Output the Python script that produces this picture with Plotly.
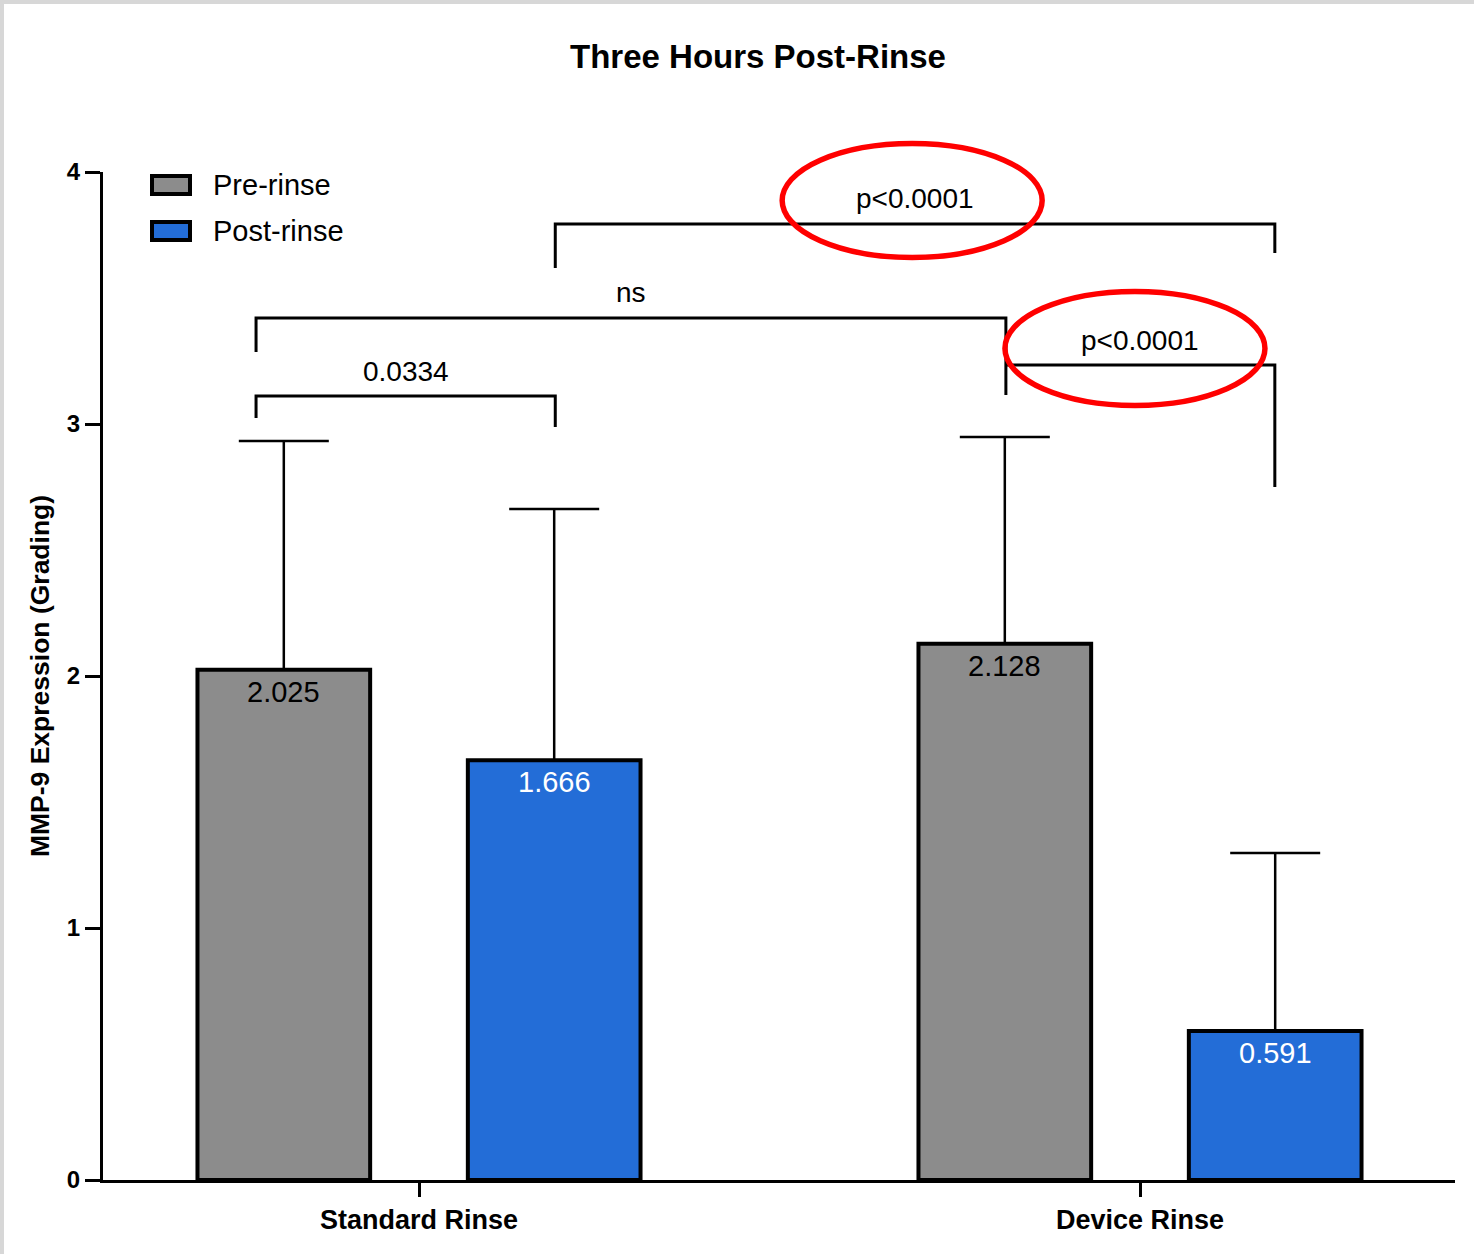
import plotly.graph_objects as go

# ---- data -------------------------------------------------------------
groups = ["Standard Rinse", "Device Rinse"]
series_names = ["Pre-rinse", "Post-rinse"]
pre_mean = [2.025, 2.128]
post_mean = [1.666, 0.591]
pre_sd = [0.908, 0.820]
post_sd = [0.997, 0.707]
y_ticks = [0, 1, 2, 3, 4]

# significance brackets: left x, right x, bar height, left leg end, right leg end, label
brackets = [
    (-0.226, 0.189, 3.111, 3.024, 2.988, "0.0334"),
    (-0.226, 0.814, 3.421, 3.286, 3.115, "ns"),
    (0.814, 1.187, 3.234, 3.234, 2.750, "p<0.0001"),
    (0.189, 1.187, 3.794, 3.619, 3.679, "p<0.0001"),
]
# highlighted labels: centre x, centre y
highlights = [(0.684, 3.887), (0.993, 3.300)]

# ---- styling ----------------------------------------------------------
FONT = "Liberation Sans, Arial, Helvetica, sans-serif"
GREY = "#8c8c8c"
BLUE = "#236dd7"
OFFSET = 0.1875
BAR_W = 0.2395
W, H = 1474, 1254
ML, MR, MT, MB = 103, 19, 172, 74
PLOT_W = W - ML - MR
PLOT_H = H - MT - MB


def px_x(p):
    return (p - ML) / PLOT_W


def px_y(p):
    return (H - MB - p) / PLOT_H


x_idx = list(range(len(groups)))
fig = go.Figure()

for name, means, sds, color, shift in [
    (series_names[0], pre_mean, pre_sd, GREY, -OFFSET),
    (series_names[1], post_mean, post_sd, BLUE, OFFSET),
]:
    fig.add_trace(go.Bar(
        name=name,
        x=[i + shift for i in x_idx],
        y=means,
        width=BAR_W,
        marker=dict(color=color, line=dict(color="black", width=4)),
        error_y=dict(type="data", symmetric=False, array=sds,
                     arrayminus=[0] * len(sds), color="black",
                     thickness=2.5, width=45),
        showlegend=False,
        hoverinfo="skip",
    ))

annotations = []
# value labels inside bars
for means, shift, tcolor in [(pre_mean, -OFFSET, "black"), (post_mean, OFFSET, "white")]:
    for i, v in zip(x_idx, means):
        annotations.append(dict(
            x=i + shift, y=v, xref="x", yref="y", text=f"{v:.3f}",
            showarrow=False, yanchor="top", yshift=-4,
            font=dict(family=FONT, size=29, color=tcolor)))

shapes = []
# brackets and their labels
for x0, x1, y, yl, yr, label in brackets:
    shapes.append(dict(
        type="path", xref="x", yref="y",
        path=f"M{x0},{yl} L{x0},{y} L{x1},{y} L{x1},{yr}",
        line=dict(color="black", width=3)))
    annotations.append(dict(
        x=(x0 + x1) / 2, y=y, xref="x", yref="y", text=label,
        showarrow=False, yanchor="middle", yshift=25,
        font=dict(family=FONT, size=28, color="black")))

# red ellipses around highlighted p-values
for cx, cy in highlights:
    shapes.append(dict(
        type="circle", xref="x", yref="paper",
        xsizemode="pixel", ysizemode="pixel",
        xanchor=cx, yanchor=cy / y_ticks[-1],
        x0=-130, x1=130, y0=-57, y1=57,
        line=dict(color="#ff0000", width=5.5)))

# legend
for k, (name, color) in enumerate(zip(series_names, [GREY, BLUE])):
    top = 176 + k * 46
    shapes.append(dict(
        type="rect", xref="paper", yref="paper",
        x0=px_x(152), x1=px_x(190), y0=px_y(top), y1=px_y(top + 18),
        fillcolor=color, line=dict(color="black", width=4)))
    annotations.append(dict(
        x=px_x(211), y=px_y(top + 9), xref="paper", yref="paper",
        text=name, showarrow=False, xanchor="left", yanchor="middle",
        font=dict(family=FONT, size=29, color="black")))

# light frame along the left and top edges
frame = "#d7d7d7"
shapes.append(dict(type="rect", xref="paper", yref="paper", layer="above",
                   x0=px_x(0), x1=px_x(4), y0=px_y(H), y1=px_y(0),
                   fillcolor=frame, line=dict(width=0)))
shapes.append(dict(type="rect", xref="paper", yref="paper", layer="above",
                   x0=px_x(0), x1=px_x(W), y0=px_y(4), y1=px_y(0),
                   fillcolor=frame, line=dict(width=0)))

fig.update_layout(
    width=W, height=H,
    margin=dict(l=ML, r=MR, t=MT, b=MB),
    paper_bgcolor="white", plot_bgcolor="white",
    barmode="overlay",
    title=dict(text="Three Hours Post-Rinse", xref="container", yref="container",
               x=758 / W, y=1 - 56 / H, xanchor="center", yanchor="middle",
               font=dict(family=FONT, size=33, color="black", weight="bold")),
    xaxis=dict(
        range=[(ML - 419) / 721, (W - MR - 419) / 721],
        tickvals=x_idx, ticktext=groups,
        ticks="outside", ticklen=14, tickwidth=3, tickcolor="black",
        showline=True, linewidth=3, linecolor="black",
        showgrid=False, zeroline=False,
        tickfont=dict(family=FONT, size=27, color="black", weight="bold"),
    ),
    yaxis=dict(
        range=[y_ticks[0], y_ticks[-1]],
        tickvals=y_ticks,
        ticks="outside", ticklen=15, tickwidth=3, tickcolor="black",
        showline=True, linewidth=3, linecolor="black",
        showgrid=False, zeroline=False,
        tickfont=dict(family=FONT, size=24, color="black", weight="bold"),
        title=dict(text="MMP-9 Expression (Grading)", standoff=10,
                   font=dict(family=FONT, size=26.5, color="black", weight="bold")),
    ),
    shapes=shapes,
    annotations=annotations,
)

fig.write_html("out.html")
